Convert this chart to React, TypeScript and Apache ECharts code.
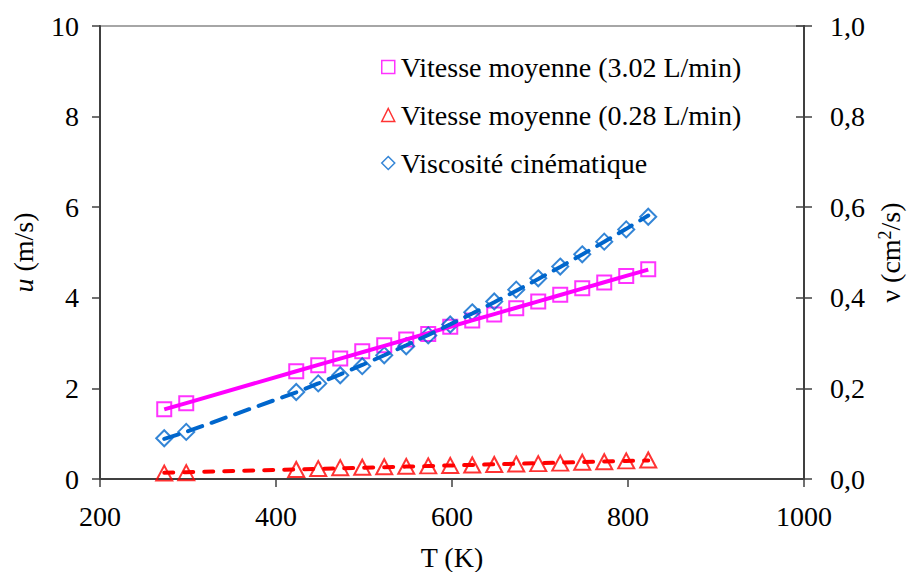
import React, { useEffect, useRef } from "react";
import * as echarts from "echarts";

// Temperatures (K)
const temperatures = [273, 298, 423, 448, 473, 498, 523, 548, 573, 598, 623, 648, 673, 698, 723, 748, 773, 798, 823];
// Mean velocity u (m/s) at 3.02 L/min
const uHigh = [1.54, 1.67, 2.38, 2.51, 2.66, 2.82, 2.95, 3.08, 3.2, 3.36, 3.5, 3.63, 3.77, 3.92, 4.07, 4.21, 4.34, 4.48, 4.63];
// Mean velocity u (m/s) at 0.28 L/min
const uLow = [0.13, 0.14, 0.21, 0.23, 0.25, 0.26, 0.27, 0.28, 0.29, 0.3, 0.31, 0.32, 0.33, 0.34, 0.35, 0.37, 0.38, 0.4, 0.42];
// Kinematic viscosity ν (cm²/s)
const viscosity = [0.09, 0.104, 0.192, 0.211, 0.229, 0.249, 0.273, 0.293, 0.317, 0.341, 0.368, 0.392, 0.418, 0.443, 0.469, 0.496, 0.524, 0.551, 0.579];

const xTicks = { min: 200, max: 1000, interval: 200 };
const leftTicks = { min: 0, max: 10, interval: 2 };
const rightTicks = { min: 0, max: 1, interval: 0.2 };

const seriesNames = [
  "Vitesse moyenne (3.02 L/min)",
  "Vitesse moyenne (0.28 L/min)",
  "Viscosité cinématique",
];

// least-squares polynomial fit (trendline)
function polyfit(xs: number[], ys: number[], deg: number): number[] {
  const n = deg + 1;
  const A: number[][] = [];
  for (let r = 0; r < n; r++) {
    const row: number[] = [];
    for (let c = 0; c < n; c++) {
      let s = 0;
      for (let i = 0; i < xs.length; i++) s += Math.pow(xs[i], r + c);
      row.push(s);
    }
    let b = 0;
    for (let i = 0; i < xs.length; i++) b += ys[i] * Math.pow(xs[i], r);
    row.push(b);
    A.push(row);
  }
  for (let i = 0; i < n; i++) {
    let p = i;
    for (let k = i + 1; k < n; k++) if (Math.abs(A[k][i]) > Math.abs(A[p][i])) p = k;
    [A[i], A[p]] = [A[p], A[i]];
    for (let k = 0; k < n; k++) {
      if (k === i) continue;
      const f = A[k][i] / A[i][i];
      for (let c = i; c <= n; c++) A[k][c] -= f * A[i][c];
    }
  }
  return A.map((row, i) => row[n] / row[i]);
}
function fitLine(xs: number[], ys: number[], deg: number) {
  const coef = polyfit(xs, ys, deg);
  return xs.map((x) => [x, coef.reduce((s, c, k) => s + c * Math.pow(x, k), 0)]);
}

const FONT = "Times New Roman, Liberation Serif, DejaVu Serif, Tinos, serif";
const FS = 28;
const MAGENTA = "#FF00FF";
const RED = "#FF0000";
const BLUE = "#0066CC";
const AXIS = "#404040";

export default function App() {
  const ref = useRef<HTMLDivElement>(null);
  useEffect(() => {
    if (!ref.current) return;
    const chart = echarts.init(ref.current, null, { renderer: "svg" });
    const pts = (ys: number[]) => temperatures.map((t, i) => [t, ys[i]]);
    const labelStyle = { fontFamily: FONT, fontSize: FS, color: "#000" };
    chart.setOption({
      animation: false,
      backgroundColor: "#fff",
      textStyle: { fontFamily: FONT },
      grid: {
        left: 100,
        right: 113,
        top: 26,
        bottom: 93,
        containLabel: false,
        outerBoundsMode: "none",
        show: true,
        borderColor: "#a6a6a6",
        borderWidth: 2,
        backgroundColor: "transparent",
      },
      legend: {
        orient: "vertical",
        left: 376,
        top: 48,
        itemWidth: 13,
        itemHeight: 13,
        itemGap: 20,
        textStyle: { ...labelStyle, padding: [0, 0, 0, 1] },
        data: [
          { name: seriesNames[0], icon: "rect", itemStyle: { color: "#fff", borderColor: MAGENTA, borderWidth: 1.5 } },
          { name: seriesNames[1], icon: "triangle", itemStyle: { color: "#fff", borderColor: RED, borderWidth: 1.5 } },
          { name: seriesNames[2], icon: "diamond", itemStyle: { color: "#fff", borderColor: BLUE, borderWidth: 1.5 } },
        ],
      },
      xAxis: {
        type: "value",
        min: xTicks.min,
        max: xTicks.max,
        interval: xTicks.interval,
        name: "T (K)",
        nameLocation: "middle",
        nameGap: 64,
        nameTextStyle: labelStyle,
        axisLine: { show: true, lineStyle: { color: AXIS, width: 2 } },
        axisTick: { show: true, length: 8, lineStyle: { color: AXIS, width: 1.5 } },
        axisLabel: { ...labelStyle, margin: 23, formatter: (v: number) => String(v) },
        splitLine: { show: false },
      },
      yAxis: [
        {
          type: "value",
          position: "left",
          min: leftTicks.min,
          max: leftTicks.max,
          interval: leftTicks.interval,
          name: "{i|u} (m/s)",
          nameLocation: "middle",
          nameGap: 63,
          nameRotate: 90,
          nameTextStyle: { ...labelStyle, rich: { i: { ...labelStyle, fontStyle: "italic" } } },
          axisLine: { show: true, lineStyle: { color: AXIS, width: 2 } },
          axisTick: { show: true, length: 8, lineStyle: { color: AXIS, width: 1.5 } },
          axisLabel: { ...labelStyle, margin: 21, formatter: (v: number) => String(v) },
          splitLine: { show: false },
        },
        {
          type: "value",
          position: "right",
          min: rightTicks.min,
          max: rightTicks.max,
          interval: rightTicks.interval,
          name: "ν (cm{sup|2}/s)",
          nameLocation: "middle",
          nameGap: 66,
          nameRotate: 90,
          nameTextStyle: {
            ...labelStyle,
            rich: { sup: { fontFamily: FONT, fontSize: 18, color: "#000", padding: [0, 0, 11, 0] } },
          },
          axisLine: { show: true, lineStyle: { color: AXIS, width: 2 } },
          axisTick: { show: true, length: 8, lineStyle: { color: AXIS, width: 1.5 } },
          axisLabel: {
            ...labelStyle,
            margin: 26,
            formatter: (v: number) => v.toFixed(1).replace(".", ","),
          },
          splitLine: { show: false },
        },
        {
          type: "value",
          position: "right",
          min: rightTicks.min,
          max: rightTicks.max,
          interval: rightTicks.interval,
          axisLine: { show: true, lineStyle: { color: AXIS, width: 2 } },
          axisTick: { show: true, inside: true, length: 8, lineStyle: { color: AXIS, width: 1.5 } },
          axisLabel: { show: false },
          splitLine: { show: false },
        },
      ],
      series: [
        {
          type: "line",
          name: "fit-high",
          data: fitLine(temperatures, uHigh, 1),
          symbol: "none",
          silent: true,
          lineStyle: { color: MAGENTA, width: 4, type: "solid" },
        },
        {
          type: "line",
          name: "fit-low",
          data: fitLine(temperatures, uLow, 1),
          symbol: "none",
          silent: true,
          lineStyle: { color: RED, width: 4, type: [9, 11], cap: "round" },
        },
        {
          type: "line",
          name: "fit-visc",
          yAxisIndex: 1,
          data: fitLine(temperatures, viscosity, 2),
          symbol: "none",
          silent: true,
          lineStyle: { color: BLUE, width: 4, type: [15, 10], cap: "round" },
        },
        {
          type: "scatter",
          name: seriesNames[0],
          data: pts(uHigh),
          symbol: "rect",
          symbolSize: 14,
          itemStyle: { color: "rgba(0,0,0,0)", borderColor: MAGENTA, borderWidth: 2 },
        },
        {
          type: "scatter",
          name: seriesNames[1],
          data: pts(uLow),
          symbol: "triangle",
          symbolSize: [16, 15],
          itemStyle: { color: "rgba(0,0,0,0)", borderColor: RED, borderWidth: 2 },
        },
        {
          type: "scatter",
          name: seriesNames[2],
          yAxisIndex: 1,
          data: pts(viscosity),
          symbol: "diamond",
          symbolSize: 16,
          itemStyle: { color: "rgba(0,0,0,0)", borderColor: BLUE, borderWidth: 2 },
        },
      ],
    });
    return () => chart.dispose();
  }, []);
  return (
    <div
      ref={ref}
      style={{ position: "fixed", left: 0, top: 0, width: 917, height: 572, background: "#fff" }}
    />
  );
}
